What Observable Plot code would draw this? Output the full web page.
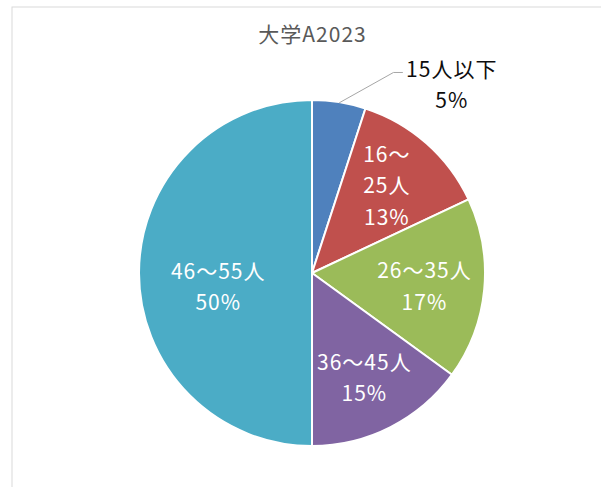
<!DOCTYPE html>
<html><head><meta charset="utf-8">
<script src="https://cdn.jsdelivr.net/npm/d3@7"></script>
<script src="https://cdn.jsdelivr.net/npm/@observablehq/plot@0.6"></script>
<style>html,body{margin:0;padding:0;background:#fff;overflow:hidden;}</style>
</head><body><div id="chart"></div>
<script>
const title = "大学A2023";
const categories = ["15人以下", "16～25人", "26～35人", "36～45人", "46～55人"];
const percents = [5, 13, 17, 15, 50];
const labelTexts = ["15人以下\n5%", "16～\n25人\n13%", "26～35人\n17%", "36～45人\n15%", "46～55人\n50%"];
const colors = ["#4F81BD", "#C0504D", "#9BBB59", "#8064A2", "#4BACC6"];

// layout
const cx = 312, cy = 273, R = 173;
const FONT = "'Noto Sans CJK JP', 'Noto Sans', sans-serif";

const data = categories.map((c, i) => ({category: c, value: percents[i], label: labelTexts[i], color: colors[i]}));
const arcs = d3.pie().sort(null).value(d => d.value)(data);
const mid = a => (a.startAngle + a.endAngle) / 2;

const labelR = [null, 0.65, 0.65, 0.66, 0.545];
const labelShiftY = [0, 0.035, 0, 0, -0.064];
const insideLabels = arcs.slice(1).map((a, k) => {
  const i = k + 1, m = mid(a);
  return {x: labelR[i] * Math.sin(m), y: labelR[i] * Math.cos(m) + labelShiftY[i], text: a.data.label};
});
const outerMid = mid(arcs[0]);
const outsideLabel = [{x: 0.805, y: 1.105, text: arcs[0].data.label}];
const leader = [
  {x: Math.sin(outerMid), y: Math.cos(outerMid)},
  {x: 0.468, y: 1.162},
  {x: 0.520, y: 1.162}
];

function pieMark(index, scales) {
  const g = d3.create("svg:g");
  const x0 = scales.x(0), y0 = scales.y(0);
  const r = scales.x(1) - scales.x(0);
  const arc = d3.arc().innerRadius(0).outerRadius(r);
  g.append("g").attr("transform", `translate(${x0},${y0})`)
    .selectAll("path").data(arcs).join("path")
    .attr("d", arc)
    .attr("fill", d => d.data.color)
    .attr("stroke", "#fff")
    .attr("stroke-width", 2)
    .attr("stroke-linejoin", "round");
  return g.node();
}

const textOpts = {x: "x", y: "y", text: "text", fontSize: 21, lineHeight: 1.5, textAnchor: "middle", lineAnchor: "middle"};

const chart = Plot.plot({
  width: 601,
  height: 487,
  margin: 0,
  style: {fontFamily: FONT, background: "#fff", letterSpacing: "1px"},
  x: {domain: [-1, 1], range: [cx - R, cx + R], axis: null},
  y: {domain: [-1, 1], range: [cy + R, cy - R], axis: null},
  marks: [
    Plot.frame({stroke: "#d9d9d9", insetLeft: 11.5, insetTop: 6.5, insetRight: -20, insetBottom: -20}),
    pieMark,
    Plot.line(leader, {x: "x", y: "y", stroke: "#a6a6a6", strokeWidth: 1}),
    Plot.text(insideLabels, {...textOpts, fill: "#fff"}),
    Plot.text(outsideLabel, {...textOpts, fill: "#0d0d0d"}),
    Plot.text([title], {x: 0, y: 1.376, text: d => d, fill: "#595959", fontSize: 21, textAnchor: "middle", lineAnchor: "middle"})
  ]
});
document.getElementById("chart").appendChild(chart);
</script>
</body></html>
